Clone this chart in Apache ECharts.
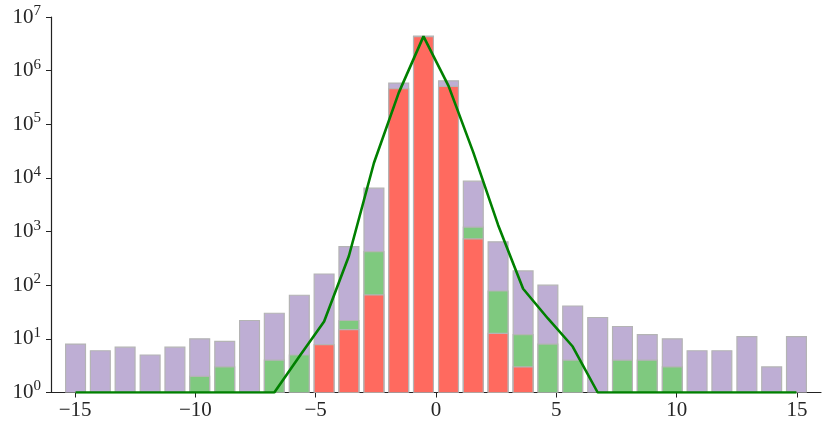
<!DOCTYPE html>
<html>
<head>
<meta charset="utf-8">
<script src="https://cdn.jsdelivr.net/npm/echarts@6/dist/echarts.min.js"></script>
<style>html,body{margin:0;padding:0;background:#fff}#c{width:831px;height:432px}</style>
</head>
<body>
<div id="c"></div>
<script>
// bin centers (30 bins spanning -15.5..15.5)
const binCenters = [-14.98, -13.95, -12.92, -11.88, -10.85, -9.82, -8.78, -7.75, -6.72, -5.68,
  -4.65, -3.62, -2.58, -1.55, -0.52, 0.52, 1.55, 2.58, 3.62, 4.65,
  5.68, 6.72, 7.75, 8.78, 9.82, 10.85, 11.88, 12.92, 13.95, 14.98];
// total counts (purple)
const totalCounts = [8, 6, 7, 5, 7, 10, 9, 22, 30, 65,
  162, 525, 6450, 586000, 4400000, 647000, 8700, 643, 185, 100,
  41, 25, 17, 12, 10, 6, 6, 11, 3, 11];
// green subset
const greenCounts = [null, null, null, null, null, 2, 3, null, 4, 5,
  null, 22, 424, null, null, null, 1210, 78, 12, 8,
  4, null, 4, 4, 3, null, null, null, null, null];
// red subset
const redCounts = [null, null, null, null, null, null, null, null, null, null,
  7.8, 14.8, 66, 460000, 4300000, 507000, 731, 12.7, 3, null,
  null, null, null, null, null, null, null, null, null, null];
// model line
const modelLine = [1, 1, 1, 1, 1, 1, 1, 1, 1, 4.7,
  21, 350, 19000, 385000, 4350000, 520000, 30000, 1330, 86, 24,
  7.2, 1, 1, 1, 1, 1, 1, 1, 1, 1];
const xTicks = [-15, -10, -5, 0, 5, 10, 15];
const yTicks = [1, 10, 100, 1000, 10000, 100000, 1000000, 10000000];

const halfWidth = 0.4133;
function barSeries(vals, color, z) {
  const data = [];
  vals.forEach((v, i) => { if (v != null) data.push([binCenters[i], v]); });
  return {
    type: 'custom', z: z, clip: true,
    data: data,
    encode: { x: 0, y: 1 },
    renderItem: function (params, api) {
      const x = api.value(0), y = api.value(1);
      const pTop = api.coord([x - halfWidth, y]);
      const pBot = api.coord([x + halfWidth, 1]);
      return {
        type: 'rect',
        shape: { x: pTop[0], y: pTop[1], width: pBot[0] - pTop[0], height: pBot[1] - pTop[1] },
        style: { fill: color, stroke: '#b4b4b4', lineWidth: 1.2 }
      };
    }
  };
}

const chart = echarts.init(document.getElementById('c'), null, { renderer: 'canvas' });
const font = 'Liberation Serif';
chart.setOption({
  animation: false,
  backgroundColor: '#fff',
  grid: { left: 51, right: 10, top: 17, bottom: 39.5 },
  xAxis: {
    type: 'value', min: -16, max: 16,
    axisLine: { show: true, onZero: false, lineStyle: { color: '#222', width: 1.2 } },
    axisTick: { show: true, length: 5, customValues: xTicks, lineStyle: { color: '#222' } },
    splitLine: { show: false },
    axisLabel: {
      customValues: xTicks, margin: 7, color: '#262626', fontFamily: font, fontSize: 21,
      formatter: v => v < 0 ? '\u2212' + Math.abs(v) : String(v)
    }
  },
  yAxis: {
    type: 'log', logBase: 10, min: 1, max: 10000000,
    axisLine: { show: true, onZero: false, lineStyle: { color: '#222', width: 1.2 } },
    axisTick: { show: true, length: 5, customValues: yTicks, lineStyle: { color: '#222' } },
    minorTick: { show: false },
    splitLine: { show: false },
    axisLabel: {
      customValues: yTicks, margin: 10, color: '#262626', fontFamily: font,
      formatter: v => '{b|10}{s|' + Math.round(Math.log10(v)) + '}',
      rich: {
        b: { fontSize: 21, fontFamily: font, color: '#262626' },
        s: { fontSize: 15, fontFamily: font, color: '#262626', padding: [0, 0, 12, 0] }
      }
    }
  },
  series: [
    barSeries(totalCounts, '#beaed4', 2),
    barSeries(greenCounts, '#7fc97f', 3),
    barSeries(redCounts, '#ff6a5f', 4),
    {
      type: 'line', z: 5, clip: true,
      data: modelLine.map((v, i) => [binCenters[i], v]),
      showSymbol: false, symbol: 'none',
      lineStyle: { color: '#008000', width: 2.6 },
      itemStyle: { color: '#008000' }
    }
  ]
});
</script>
</body>
</html>
